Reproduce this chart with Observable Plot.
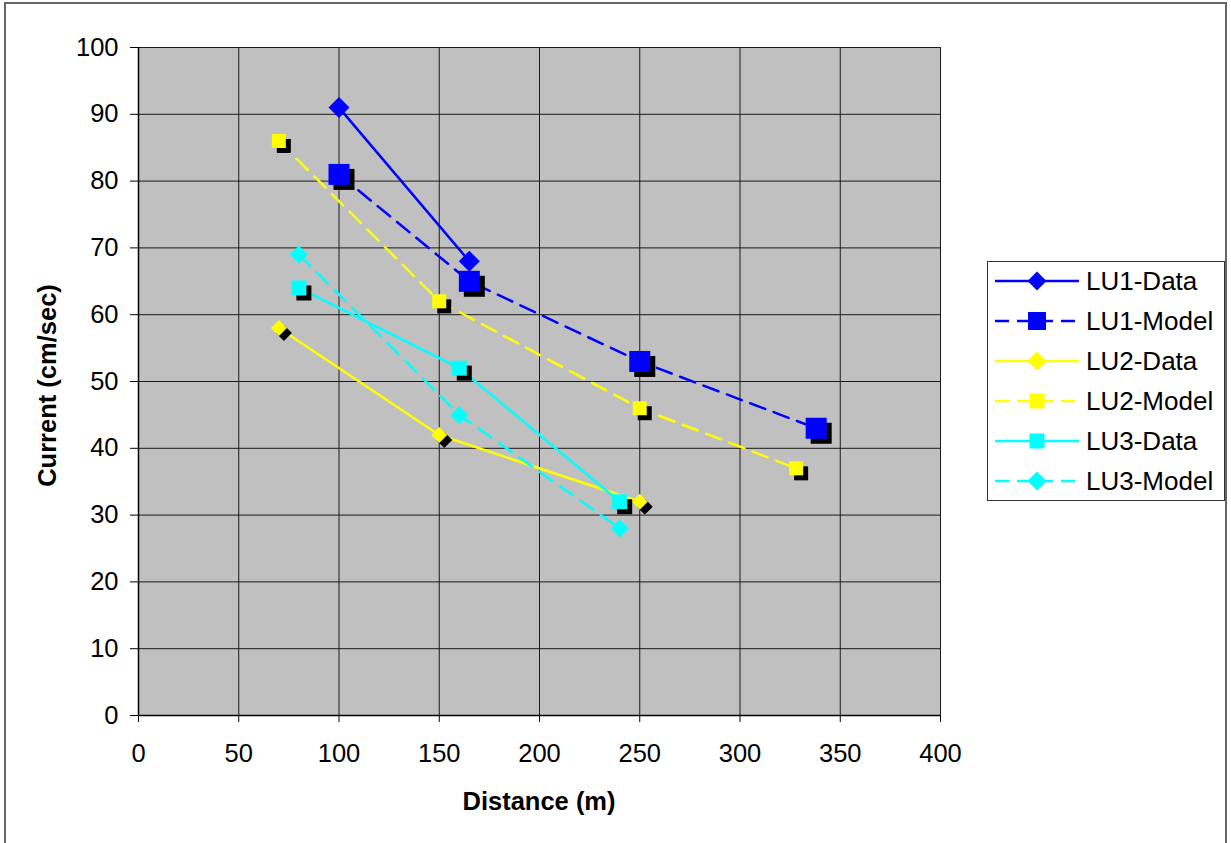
<!DOCTYPE html>
<html>
<head>
<meta charset="utf-8">
<script src="https://cdn.jsdelivr.net/npm/d3@7"></script>
<script src="https://cdn.jsdelivr.net/npm/@observablehq/plot@0.6"></script>
<style>
  html, body { margin: 0; padding: 0; background: #fff; }
  #wrap { position: relative; width: 1231px; height: 843px; overflow: hidden; font-family: "Liberation Sans", Arial, sans-serif; }
  #border { position: absolute; left: 4px; top: 2px; width: 1223px; height: 900px; border: 2px solid #666; box-sizing: border-box; }
  .title { position: absolute; font-weight: bold; font-size: 25.5px; color: #000; white-space: nowrap; }
  #chart { position: absolute; left: 0; top: 0; }
  #legend { position: absolute; left: 987px; top: 261px; }
</style>
</head>
<body>
<div id="wrap">
  <div id="border"></div>
  <div id="chart"></div>
  <div class="title" id="xtitle">Distance (m)</div>
  <div class="title" id="ytitle">Current (cm/sec)</div>
  <div id="legend"></div>
</div>
<script>
// ---- data ----
const seriesNames = ["LU1-Data", "LU1-Model", "LU2-Data", "LU2-Model", "LU3-Data", "LU3-Model"];
const lu1DataX = [100, 165];
const lu1DataY = [91, 68];
const lu1ModelX = [100, 165, 250, 338];
const lu1ModelY = [81, 65, 53, 43];
const lu2DataX = [70, 150, 250];
const lu2DataY = [58, 42, 32];
const lu2ModelX = [70, 150, 250, 328];
const lu2ModelY = [86, 62, 46, 37];
const lu3DataX = [80, 160, 240];
const lu3DataY = [64, 52, 32];
const lu3ModelX = [80, 160, 240];
const lu3ModelY = [69, 45, 28];
const xTicks = [0, 50, 100, 150, 200, 250, 300, 350, 400];
const yTicks = [0, 10, 20, 30, 40, 50, 60, 70, 80, 90, 100];

// ---- styles ----
const sqSym = {draw(ctx, size) { const h = Math.sqrt(size / Math.PI); ctx.moveTo(-h, -h); ctx.lineTo(h, -h); ctx.lineTo(h, h); ctx.lineTo(-h, h); ctx.closePath(); }};
const diaSym = {draw(ctx, size) { const h = Math.sqrt(size / Math.PI); ctx.moveTo(0, -h); ctx.lineTo(h, 0); ctx.lineTo(0, h); ctx.lineTo(-h, 0); ctx.closePath(); }};
const styles = [
  {color: "#0000ff", dash: null, symbol: diaSym, r: 10.5, shadow: false, lr: 9.5},
  {color: "#0000ff", dash: "16,9", symbol: sqSym, r: 10.5, shadow: true, lr: 9},
  {color: "#ffff00", dash: null, symbol: diaSym, r: 8, shadow: true, lr: 9.5},
  {color: "#ffff00", dash: "16,9", symbol: sqSym, r: 7, shadow: true, lr: 7.5},
  {color: "#00ffff", dash: null, symbol: sqSym, r: 7.5, shadow: true, lr: 7.5},
  {color: "#00ffff", dash: "16,9", symbol: diaSym, r: 9, shadow: false, lr: 9.5}
];
const xs = [lu1DataX, lu1ModelX, lu2DataX, lu2ModelX, lu3DataX, lu3ModelX];
const ys = [lu1DataY, lu1ModelY, lu2DataY, lu2ModelY, lu3DataY, lu3ModelY];

const seriesData = seriesNames.map((name, k) => xs[k].map((x, i) => ({series: name, x, y: ys[k][i]})));

const marks = [
  Plot.frame({fill: "#c0c0c0", stroke: "#808080"}),
  Plot.gridX(xTicks, {stroke: "#1a1a1a", strokeOpacity: 1, strokeWidth: 1}),
  Plot.gridY(yTicks, {stroke: "#1a1a1a", strokeOpacity: 1, strokeWidth: 1}),
  Plot.ruleX([0], {stroke: "#000", strokeWidth: 1.5}),
  Plot.ruleY([0], {stroke: "#000", strokeWidth: 1.5}),
  Plot.axisX({ticks: xTicks, tickSize: 7, tickPadding: 21, fontSize: 25.5, label: null, stroke: "#000"}),
  Plot.axisY({ticks: yTicks, tickSize: 8, tickPadding: 12, fontSize: 25.5, label: null, stroke: "#000"})
];
seriesData.forEach((d, k) => {
  const s = styles[k];
  marks.push(Plot.line(d, {x: "x", y: "y", stroke: s.color, strokeWidth: 2.5, strokeDasharray: s.dash || undefined}));
  if (s.shadow) marks.push(Plot.dot(d, {x: "x", y: "y", symbol: s.symbol, r: s.r, fill: "#000", dx: 5, dy: 5}));
  marks.push(Plot.dot(d, {x: "x", y: "y", symbol: s.symbol, r: s.r, fill: s.color}));
});

const plot = Plot.plot({
  width: 1231,
  height: 843,
  marginLeft: 138,
  marginRight: 291,
  marginTop: 47,
  marginBottom: 128,
  style: {background: "transparent", fontFamily: "'Liberation Sans', Arial, sans-serif", fontSize: "25.5px", color: "#000"},
  x: {domain: [0, 400]},
  y: {domain: [0, 100]},
  marks
});
document.getElementById("chart").appendChild(plot);

// titles
const xt = document.getElementById("xtitle");
xt.style.left = (539 - xt.offsetWidth / 2) + "px";
xt.style.top = (801 - xt.offsetHeight / 2) + "px";
const yt = document.getElementById("ytitle");
yt.style.left = (47 - yt.offsetWidth / 2) + "px";
yt.style.top = (385 - yt.offsetHeight / 2) + "px";
yt.style.transform = "rotate(-90deg)";

// legend
const lw = 237, lh = 239;
const lsvg = d3.select("#legend").append("svg").attr("width", lw + 1).attr("height", lh + 1);
lsvg.append("rect").attr("x", 0.5).attr("y", 0.5).attr("width", lw).attr("height", lh)
  .attr("fill", "#fff").attr("stroke", "#333").attr("stroke-width", 1);
seriesNames.forEach((name, k) => {
  const s = styles[k];
  const cy = 20 + k * 40;
  const g = lsvg.append("g").attr("transform", `translate(0,${cy})`);
  g.append("line").attr("x1", 8).attr("x2", 92).attr("y1", 0).attr("y2", 0)
    .attr("stroke", s.color).attr("stroke-width", 2.5).attr("stroke-dasharray", s.dash ? "14,8" : null);
  const sz = s.lr * s.lr * Math.PI;
  g.append("path").attr("transform", "translate(50,0)").attr("d", d3.symbol(s.symbol, sz)()).attr("fill", s.color);
  g.append("text").attr("x", 99).attr("y", 0).attr("dy", "0.35em")
    .attr("font-family", "'Liberation Sans', Arial, sans-serif").attr("font-size", 26).attr("fill", "#000").text(name);
});
</script>
</body>
</html>
